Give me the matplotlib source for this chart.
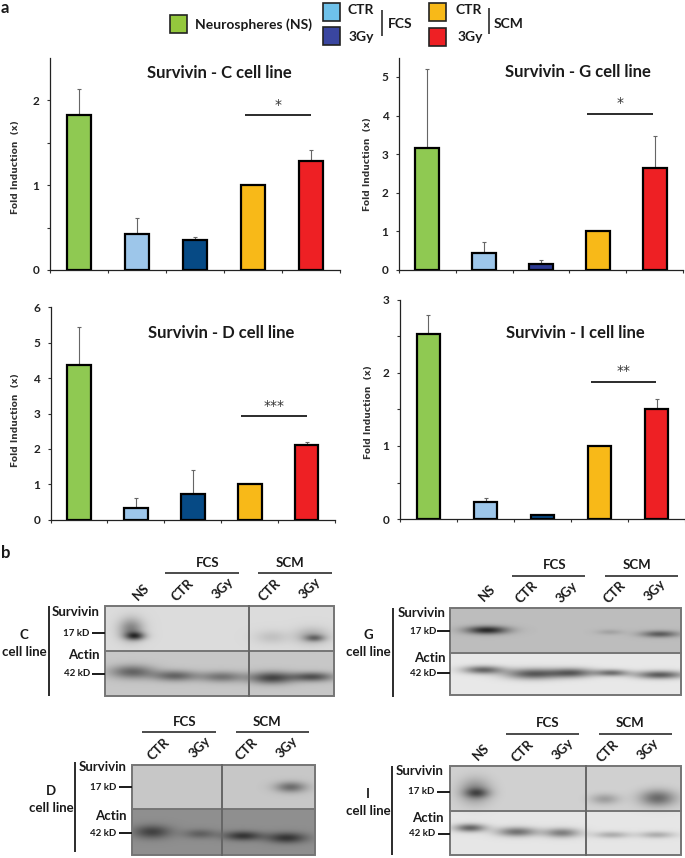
import numpy as np
import matplotlib
matplotlib.use("Agg")
import matplotlib.pyplot as plt
from matplotlib.patches import Rectangle

W, H = 685, 858
FONT = ["Lato", "DejaVu Sans"]
plt.rcParams["font.family"] = FONT

conditions = ["NS", "FCS CTR", "FCS 3Gy", "SCM CTR", "SCM 3Gy"]
c_values = [1.83, 0.43, 0.35, 1.00, 1.28]
c_upper = [2.13, 0.61, 0.39, 1.00, 1.42]
g_values = [3.17, 0.44, 0.15, 1.00, 2.63]
g_upper = [5.20, 0.73, 0.25, 1.00, 3.46]
d_values = [4.37, 0.33, 0.72, 1.00, 2.10]
d_upper = [5.43, 0.61, 1.40, 1.00, 2.20]
i_values = [2.54, 0.23, 0.06, 1.00, 1.51]
i_upper = [2.79, 0.29, 0.06, 1.00, 1.65]

GREEN, LBLUE, NAVY, INDIGO, ORANGE, RED = "#8FC952", "#9DC6EA", "#064A85", "#2B3990", "#F8B918", "#EE2024"

fig = plt.figure(figsize=(W / 100, H / 100), dpi=100, facecolor="white")


def px_axes(x0, x1, ytop, ybot, **kw):
    return fig.add_axes([x0 / W, 1 - ybot / H, (x1 - x0) / W, (ybot - ytop) / H], **kw)


def bar_panel(box, vals, upper, ymax, major, minor, dark, title, tx, ty, ylab_x, ylab_y, sig, sig_x, sig_y, star_y):
    x0, x1, ytop, ybot = box
    ax = px_axes(x0, x1, ytop, ybot)
    ax.set_xlim(0, 5)
    ax.set_ylim(0, ymax)
    colors = [GREEN, LBLUE, dark, ORANGE, RED]
    xs = np.arange(5) + 0.5
    ax.bar(xs, vals, width=0.42, color=colors, edgecolor="black", linewidth=1.6, zorder=3)
    err = [np.zeros(5), np.array(upper) - np.array(vals)]
    keep = err[1] > 0
    ax.errorbar(xs[keep], np.array(vals)[keep], yerr=[err[0][keep], err[1][keep]], fmt="none",
                ecolor="#666666", elinewidth=0.8, capsize=1.2, capthick=0.8, zorder=2)
    for s in ("top", "right"):
        ax.spines[s].set_visible(False)
    for s in ("left", "bottom"):
        ax.spines[s].set_linewidth(0.9)
        ax.spines[s].set_color("#222222")
    ax.set_xticks(np.arange(6))
    ax.set_xticklabels([])
    ax.set_yticks(major)
    ax.set_yticks(minor, minor=True)
    ax.set_yticklabels([str(m) for m in major], fontsize=8.5, fontweight="bold", color="#222222")
    ax.tick_params(axis="both", which="both", length=2.5, width=0.8, color="#333333", pad=5)
    ax.patch.set_alpha(0)
    ov.text(tx, ty, title, ha="center", va="center", fontsize=12, fontweight="bold", color="#1a1a1a")
    ov.text(ylab_x, ylab_y, "Fold Induction  (x)", rotation=90, ha="center", va="center",
            fontsize=6.6, fontweight="bold", family="DejaVu Sans", color="#333333")
    ov.plot(sig_x, [sig_y, sig_y], color="#1a1a1a", lw=1.3, solid_capstyle="butt")
    ov.text(sum(sig_x) / 2, star_y, sig, ha="center", va="center", fontsize=10, color="#333333", family="DejaVu Sans")


def blot(box, top_bg, bot_bg, split_y, divider, bands):
    x0, x1, y0, y1 = box
    xx, yy = np.meshgrid(np.linspace(x0, x1, int((x1 - x0) * 2)), np.linspace(y0, y1, int((y1 - y0) * 2)))
    img = np.where(yy < split_y, top_bg, bot_bg).astype(float)
    for (bx, by, sx, sy, amp) in bands:
        img -= amp * np.exp(-((xx - bx) / (sx * 1.1)) ** 2 - ((yy - by) / (sy * 1.35)) ** 2)
    ov.imshow(np.clip(img, 0, 1), extent=[x0, x1, y1, y0], cmap="gray", vmin=0, vmax=1,
              aspect="auto", interpolation="bilinear", zorder=1)
    ov.add_patch(Rectangle((x0, y0), x1 - x0, y1 - y0, fill=False, ec="#757575", lw=1.4, zorder=2))
    ov.plot([x0, x1], [split_y, split_y], color="#757575", lw=1.4, zorder=2)
    if divider:
        ov.plot([divider, divider], [y0, y1], color="#666666", lw=1.4, zorder=2)


def txt(x, y, s, size=9.5, ha="center", rot=0, weight="bold"):
    ov.text(x, y, s, fontsize=size, ha=ha, va="center", rotation=rot, fontweight=weight,
            color="#1a1a1a", rotation_mode="anchor" if rot else "default", zorder=4)


def seg(xs, ys, lw=1.2):
    ov.plot(xs, ys, color="#1a1a1a", lw=lw, solid_capstyle="butt", zorder=4)


def blot_labels(groups, lanes, cell, cell_x, cell_y, vline, surv, kd17, actin, kd42):
    (fx, fy, fl0, fl1, fly), (sx, sl0, sl1) = groups
    txt(fx, fy, "FCS")
    seg([fl0, fl1], [fly, fly], 1.1)
    txt(sx, fy, "SCM")
    seg([sl0, sl1], [fly, fly], 1.1)
    for (x, y, s) in lanes:
        txt(x, y, s, rot=45)
    txt(cell_x, cell_y, cell)
    txt(cell_x, cell_y + 17, "cell line")
    seg([vline[0], vline[0]], vline[1:], 1.3)
    txt(surv[0], surv[1], "Survivin", ha="right")
    txt(actin[0], actin[1], "Actin", ha="right")
    txt(kd17[0], kd17[1], "17 kD", size=7, ha="right")
    txt(kd42[0], kd42[1], "42 kD", size=7, ha="right")
    seg(kd17[2:4], [kd17[1], kd17[1]], 1.4)
    seg(kd42[2:4], [kd42[1], kd42[1]], 1.4)


ov = fig.add_axes([0, 0, 1, 1], zorder=5)
ov.set_xlim(0, W)
ov.set_ylim(H, 0)
ov.axis("off")
ov.patch.set_alpha(0)

# panel a
bar_panel((50, 340, 58, 270), c_values, c_upper, 2.5, [0, 1, 2], [0.5, 1.5], NAVY,
          "Survivin - C cell line", 219, 73, 16, 167, "*", (245, 311), 115, 105)
bar_panel((399, 683, 58, 270), g_values, g_upper, 5.49, [0, 1, 2, 3, 4, 5], [], INDIGO,
          "Survivin - G cell line", 578, 72, 368, 164, "*", (587, 653), 114, 103)
bar_panel((50.5, 335, 307.3, 519.7), d_values, d_upper, 6, [0, 1, 2, 3, 4, 5, 6], [], NAVY,
          "Survivin - D cell line", 221, 333, 16, 420, "***", (241, 307), 416, 406)
bar_panel((400, 685, 300, 519), i_values, i_upper, 3, [0, 1, 2, 3], [0.5, 1.5, 2.5], NAVY,
          "Survivin - I cell line", 575, 333, 369, 412, "**", (591, 656), 381.7, 371)

# legend
for (x, y, c) in [(170, 15, "#94C83D"), (323, 3, "#6EC1EA"), (323, 27, "#3A46A0"), (429, 3, ORANGE), (429, 28, RED)]:
    ov.add_patch(Rectangle((x, y), 17.5, 18, fc=c, ec="#222222", lw=1.2))
txt(254, 25, "Neurospheres (NS)", 10)
txt(361, 10, "CTR", 10)
txt(361, 37, "3Gy", 10)
seg([382, 382], [10, 36], 1.1)
txt(388, 24, "FCS", 10, ha="left")
txt(469, 10, "CTR", 10)
txt(470, 37, "3Gy", 10)
seg([489, 489], [8, 34], 1.1)
txt(494, 24, "SCM", 10, ha="left")
txt(1, 8, "a", 12, ha="left")
txt(1, 553, "b", 12, ha="left")

# panel b: blots
blot((105, 334, 606, 696), 0.86, 0.78, 651, 249, [
    (131, 629, 11, 8, 0.35), (135, 636, 9, 3, 0.5), (272, 637, 15, 5, 0.1), (312, 636, 15, 6, 0.2), (315, 638, 9, 2.5, 0.3),
    (132, 672, 20, 5, 0.38), (175, 676, 20, 4, 0.38), (222, 677, 20, 4, 0.32), (272, 678, 20, 4.5, 0.5), (313, 677, 19, 3.5, 0.45)])
blot_labels(((208, 563, 165, 239, 573), (290, 258, 332)),
            [(141, 592, "NS"), (183, 590, "CTR"), (223, 588, "3Gy"), (270, 590, "CTR"), (310, 588, "3Gy")],
            "C", 24, 635, (49, 606, 696), (100, 612), (89, 633, 92, 105), (100, 655), (90, 674, 92, 105))

blot((450, 681, 608, 695), 0.74, 0.91, 653, None, [
    (487, 630, 19, 3, 0.58), (610, 632, 12, 2, 0.1), (660, 634, 17, 2.5, 0.38),
    (483, 670, 18, 3, 0.5), (533, 674, 25, 4, 0.55), (573, 673, 20, 3.5, 0.5), (612, 673, 15, 2.5, 0.45), (660, 675, 22, 3, 0.55)])
blot_labels(((555, 565, 512, 585, 576), (637, 605, 678)),
            [(487, 593, "NS"), (527, 592, "CTR"), (567, 592, "3Gy"), (615, 592, "CTR"), (655, 590, "3Gy")],
            "G", 368, 635, (393, 608, 697), (446, 613), (436, 631, 437, 450), (446, 658), (436, 673, 437, 450))

blot((132, 315, 765, 855), 0.78, 0.56, 809, 222, [
    (291, 787, 14, 4, 0.35),
    (152, 832, 17, 5, 0.3), (200, 834, 15, 3.5, 0.18), (243, 836, 17, 3.5, 0.35), (287, 838, 18, 4, 0.35)])
blot_labels(((185, 722, 142, 216, 732), (267, 236, 309)),
            [(159, 749, "CTR"), (200, 747, "3Gy"), (247, 749, "CTR"), (287, 747, "3Gy")],
            "D", 51, 791, (75, 762, 852), (127, 767), (116, 787, 119, 132), (127, 816), (116, 833, 119, 132))

blot((450, 681, 766, 855), 0.82, 0.90, 811, 586, [
    (475, 791, 14, 9, 0.3), (477, 793, 11, 3.5, 0.28), (605, 799, 13, 4, 0.2), (658, 798, 16, 6, 0.4),
    (470, 828, 14, 3, 0.5), (517, 832, 18, 3.5, 0.45), (562, 833, 16, 3.5, 0.4), (612, 835, 16, 2.5, 0.22), (657, 835, 16, 2.5, 0.22)])
blot_labels(((548, 723, 506, 579, 734), (630, 599, 672)),
            [(481, 752, "NS"), (523, 751, "CTR"), (563, 749, "3Gy"), (608, 751, "CTR"), (648, 749, "3Gy")],
            "I", 368, 794, (392, 766, 855), (444, 771), (434, 792, 437, 450), (444, 818), (435, 834, 438, 450))

ov.set_xlim(0, W)
ov.set_ylim(H, 0)
fig.savefig("out.png", dpi=100)
